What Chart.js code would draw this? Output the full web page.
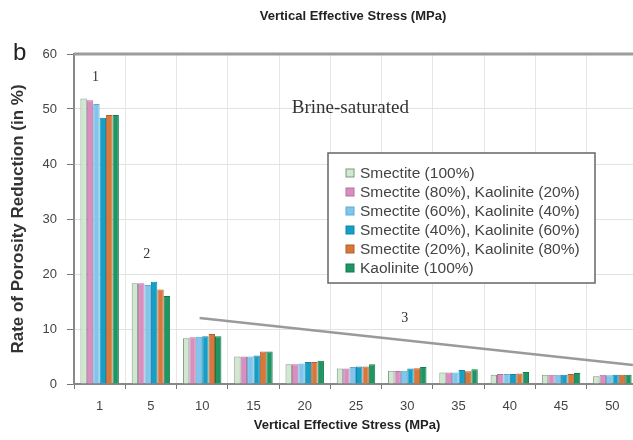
<!DOCTYPE html>
<html>
<head>
<meta charset="utf-8">
<script src="https://cdn.jsdelivr.net/npm/chart.js@4.4.0/dist/chart.umd.min.js"></script>
<style>
    html, body { margin: 0; padding: 0; background: #fff; overflow: hidden; }
    #wrap { width: 650px; height: 440px; }
</style>
</head>
<body>
<div id="wrap"><canvas id="grafico" width="650" height="440"></canvas></div>
<script>
// tensões efetivas verticais (MPa)
const tensoes = ["1", "5", "10", "15", "20", "25", "30", "35", "40", "45", "50"];

// taxa de redução de porosidade (%) por mistura
const smectite100 = [51.9, 18.3, 8.3, 5.0, 3.6, 2.8, 2.4, 2.1, 1.7, 1.7, 1.4];
const smectite80 = [51.6, 18.3, 8.5, 5.0, 3.6, 2.8, 2.35, 2.1, 1.8, 1.7, 1.7];
const smectite60 = [50.9, 18.0, 8.6, 5.0, 3.75, 3.1, 2.4, 2.1, 1.8, 1.7, 1.6];
const smectite40 = [48.4, 18.6, 8.7, 5.2, 4.0, 3.2, 2.8, 2.55, 1.8, 1.7, 1.7];
const smectite20 = [48.9, 17.2, 9.1, 5.9, 4.0, 3.2, 2.85, 2.3, 1.9, 1.8, 1.7];
const kaolinite100 = [48.9, 16.0, 8.7, 5.9, 4.25, 3.6, 3.1, 2.7, 2.2, 2.0, 1.7];

const rotulos = [
    "Smectite (100%)",
    "Smectite (80%), Kaolinite (20%)",
    "Smectite (60%), Kaolinite (40%)",
    "Smectite (40%), Kaolinite (60%)",
    "Smectite (20%), Kaolinite (80%)",
    "Kaolinite (100%)"
];
const series = [smectite100, smectite80, smectite60, smectite40, smectite20, kaolinite100];
const cores = ["#d2e7cf", "#d88fbf", "#80c6ec", "#169fc6", "#d7773a", "#1e9563"];
const bordas = ["#7c9a84", "#b86fa0", "#5eaad4", "#0f86a8", "#b55e28", "#137a4d"];

// linha do trecho 3 (índice de categoria, valor)
const linhaX = [1.95, 10.4];
const linhaY = [12, 3.45];

// anotações: texto, índice de categoria, valor, tamanho da fonte
const notas = [
    ["1", -0.08, 55.8, 14],
    ["2", 0.92, 23.5, 14],
    ["3", 5.95, 12.0, 14],
    ["Brine-saturated", 4.89, 50.2, 19]
];

const fonte = "'Liberation Sans', Arial, sans-serif";

const anotacoes = {
    id: "anotacoes",
    afterDatasetsDraw(chart) {
        const { ctx, chartArea: area, scales: { x, y } } = chart;
        ctx.save();
        ctx.strokeStyle = "#9c9c9c";
        ctx.lineWidth = 3;
        ctx.beginPath();
        ctx.moveTo(area.left, area.top);
        ctx.lineTo(area.right, area.top);
        ctx.stroke();

        ctx.strokeStyle = "#9a9a9a";
        ctx.lineWidth = 2.5;
        ctx.beginPath();
        ctx.moveTo(x.getPixelForValue(linhaX[0]), y.getPixelForValue(linhaY[0]));
        ctx.lineTo(x.getPixelForValue(linhaX[1]), y.getPixelForValue(linhaY[1]));
        ctx.stroke();
        ctx.restore();
    },
    afterDraw(chart) {
        const { ctx, scales: { x, y } } = chart;
        ctx.save();
        ctx.fillStyle = "#333";
        ctx.textAlign = "center";
        ctx.textBaseline = "middle";
        notas.forEach((n) => {
            ctx.font = n[3] + "px 'Liberation Serif', serif";
            ctx.fillText(n[0], x.getPixelForValue(n[1]), y.getPixelForValue(n[2]));
        });

        // títulos
        ctx.fillStyle = "#222";
        ctx.font = "bold 13px " + fonte;
        ctx.fillText("Vertical Effective Stress (MPa)", 353, 16);
        ctx.fillText("Vertical Effective Stress (MPa)", 347, 425);
        ctx.textAlign = "left";
        ctx.textBaseline = "alphabetic";
        ctx.font = "24px " + fonte;
        ctx.fillText("b", 13, 60);

        // legenda
        const lx = 328, ly = 153, lw = 267, lh = 130;
        ctx.fillStyle = "#fff";
        ctx.fillRect(lx, ly, lw, lh);
        ctx.strokeStyle = "#666";
        ctx.lineWidth = 1.5;
        ctx.strokeRect(lx, ly, lw, lh);
        ctx.font = "15.5px " + fonte;
        ctx.textBaseline = "middle";
        chart.data.datasets.forEach((ds, i) => {
            const cy = ly + 20 + i * 19;
            ctx.fillStyle = ds.backgroundColor;
            ctx.fillRect(lx + 18, cy - 4, 8, 8);
            ctx.strokeStyle = ds.borderColor;
            ctx.lineWidth = 1;
            ctx.strokeRect(lx + 18, cy - 4, 8, 8);
            ctx.fillStyle = "#444";
            ctx.fillText(ds.label, lx + 32, cy + 1);
        });
        ctx.restore();
    }
};

const ctx = document.getElementById("grafico").getContext("2d");

new Chart(ctx, {
    type: "bar",
    data: {
        labels: tensoes,
        datasets: series.map((dados, i) => ({
            label: rotulos[i],
            data: dados,
            backgroundColor: cores[i],
            borderColor: bordas[i],
            borderWidth: 1,
            categoryPercentage: 0.75,
            barPercentage: 1.0
        }))
    },
    options: {
        responsive: false,
        animation: false,
        devicePixelRatio: 1,
        layout: { padding: { top: 54, right: 12, bottom: 0, left: 0 } },
        plugins: {
            legend: { display: false },
            tooltip: { enabled: false }
        },
        scales: {
            x: {
                grid: { offset: true, color: "#e6e6e6", tickColor: "#777", tickLength: 5 },
                border: { color: "#888", width: 2 },
                ticks: { color: "#444", font: { family: fonte, size: 13 }, padding: 10 },
                afterFit: (s) => { s.height = 56; }
            },
            y: {
                min: 0,
                max: 60,
                ticks: { stepSize: 10, color: "#444", font: { family: fonte, size: 13 }, padding: 10 },
                grid: { color: "#e2e2e2", tickColor: "#777", tickLength: 7 },
                border: { color: "#888", width: 2 },
                title: {
                    display: true,
                    text: "Rate of Porosity Reduction (in %)",
                    color: "#333",
                    font: { family: fonte, size: 17, weight: "bold" },
                    padding: { top: 8, bottom: 0 }
                },
                afterFit: (s) => { s.width = 74; }
            }
        }
    },
    plugins: [anotacoes]
});
</script>
</body>
</html>
